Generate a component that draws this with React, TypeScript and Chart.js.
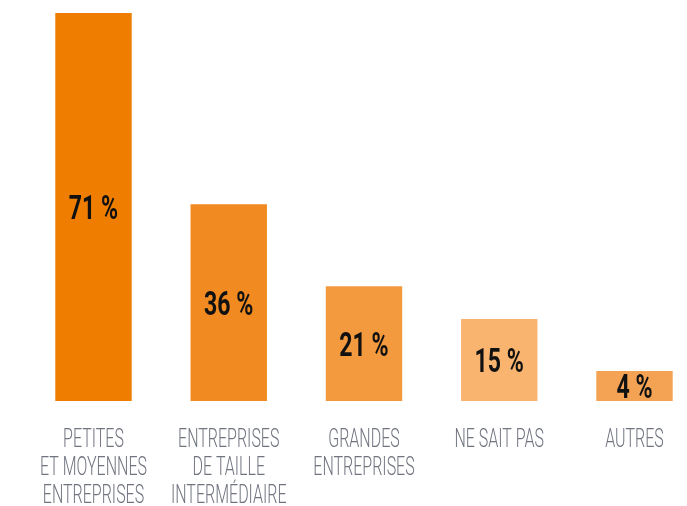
import React, { useEffect, useRef } from "react";
import { Chart, registerables } from "chart.js";

Chart.register(...registerables);

const categories: string[][] = [
  ["PETITES", "ET MOYENNES", "ENTREPRISES"],
  ["ENTREPRISES", "DE TAILLE", "INTERMÉDIAIRE"],
  ["GRANDES", "ENTREPRISES"],
  ["NE SAIT PAS"],
  ["AUTRES"],
];
// bar heights as drawn (percent)
const barValues = [71, 36, 21, 15, 5.5];
// printed shares
const shareLabels = ["71 %", "36 %", "21 %", "15 %", "4 %"];
const barColors = ["#EF7D00", "#F18A21", "#F39A3F", "#F9B46F", "#F4A354"];

const labelPlugin = {
  id: "customLabels",
  afterDatasetsDraw(chart: any) {
    const ctx = chart.ctx;
    const meta = chart.getDatasetMeta(0);
    meta.data.forEach((bar: any, i: number) => {
      const cy = (bar.y + bar.base) / 2;
      ctx.save();
      ctx.translate(bar.x, cy + 12);
      ctx.scale(0.7, 1);
      ctx.font = "bold 33px Roboto";
      ctx.fillStyle = "#111111";
      ctx.textAlign = "center";
      ctx.textBaseline = "alphabetic";
      ctx.fillText(shareLabels[i], 0, 0);
      ctx.restore();
    });
  },
  afterDraw(chart: any) {
    const ctx = chart.ctx;
    const meta = chart.getDatasetMeta(0);
    categories.forEach((lines, i) => {
      const x = meta.data[i].x;
      lines.forEach((line, j) => {
        ctx.save();
        ctx.translate(x, chart.chartArea.bottom + 46 + j * 28);
        ctx.scale(0.64, 1);
        ctx.font = "300 25px Roboto";
        ctx.fillStyle = "#70747F";
        ctx.textAlign = "center";
        ctx.textBaseline = "alphabetic";
        ctx.fillText(line, 0, 0);
        ctx.restore();
      });
    });
  },
};

export default function App() {
  const ref = useRef<HTMLCanvasElement | null>(null);
  useEffect(() => {
    if (!ref.current) return;
    const chart = new Chart(ref.current, {
      type: "bar",
      data: {
        labels: categories.map((c) => c.join(" ")),
        datasets: [
          {
            data: barValues,
            backgroundColor: barColors,
            borderWidth: 0,
            categoryPercentage: 1,
            barPercentage: 0.565,
            clip: false as any,
          },
        ],
      },
      options: {
        animation: false,
        responsive: false,
        devicePixelRatio: 1,
        layout: { padding: { left: 93.5, right: 52.5, top: 13, bottom: 105 } },
        plugins: { legend: { display: false }, tooltip: { enabled: false } },
        scales: {
          x: { display: false, offset: false },
          y: { display: false, min: 0, max: 71 },
        },
      },
      plugins: [labelPlugin],
    });
    return () => chart.destroy();
  }, []);
  return (
    <div style={{ position: "absolute", left: 0, top: 0, width: 687, height: 506, background: "#fff" }}>
      <canvas ref={ref} width={687} height={506} style={{ width: 687, height: 506 }} />
    </div>
  );
}
